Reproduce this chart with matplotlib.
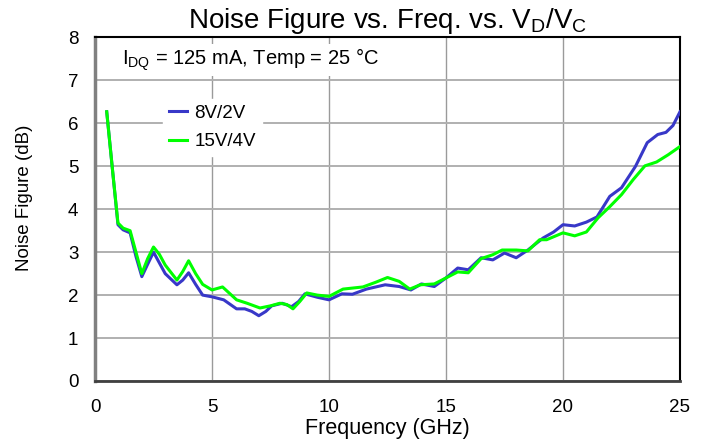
import matplotlib
matplotlib.use("Agg")
import matplotlib.pyplot as plt

plt.rcParams["font.family"] = ["Liberation Sans", "DejaVu Sans"]

# частота, ГГц и коэффициент шума, дБ
freq_8v = [0.5, 0.75, 0.98, 1.2, 1.5, 1.75, 2.0, 2.25, 2.5, 2.75, 3.0, 3.5, 3.75, 4.0,
           4.3, 4.6, 5.0, 5.5, 6.05, 6.4, 6.7, 7.0, 7.3, 7.55, 8.0, 8.4, 8.7, 8.97,
           9.5, 10.0, 10.55, 11.0, 11.6, 12.4, 13.0, 13.5, 13.95, 14.5, 15.0, 15.5,
           15.95, 16.5, 17.0, 17.5, 18.0, 18.5, 19.15, 19.6, 20.0, 20.5, 21.0, 21.45,
           22.0, 22.5, 23.1, 23.6, 24.05, 24.4, 24.7, 25.0]
nf_8v = [6.27, 4.9, 3.64, 3.52, 3.45, 2.9, 2.43, 2.72, 3.0, 2.75, 2.5, 2.24, 2.35, 2.52,
         2.25, 2.0, 1.96, 1.89, 1.68, 1.68, 1.62, 1.52, 1.62, 1.75, 1.81, 1.73, 1.85,
         2.03, 1.95, 1.89, 2.03, 2.02, 2.14, 2.24, 2.2, 2.12, 2.26, 2.2, 2.4, 2.63,
         2.59, 2.87, 2.82, 2.98, 2.87, 3.05, 3.33, 3.47, 3.64, 3.61, 3.7, 3.82,
         4.3, 4.5, 5.0, 5.55, 5.74, 5.79, 5.95, 6.27]

freq_15v = [0.5, 0.75, 0.98, 1.2, 1.5, 1.75, 2.0, 2.25, 2.5, 2.75, 3.0, 3.5, 3.75, 4.0,
            4.3, 4.6, 5.0, 5.45, 6.05, 6.5, 7.05, 7.5, 7.9, 8.2, 8.46, 8.75, 9.05,
            9.5, 10.0, 10.6, 11.45, 12.0, 12.5, 13.0, 13.45, 13.9, 14.5, 15.0, 15.5,
            15.95, 16.5, 17.0, 17.4, 18.0, 18.5, 19.0, 19.3, 20.0, 20.5, 21.0, 21.5,
            22.0, 22.5, 23.0, 23.5, 24.0, 24.5, 25.0]
nf_15v = [6.27, 4.9, 3.68, 3.56, 3.5, 3.0, 2.5, 2.85, 3.12, 2.95, 2.7, 2.35, 2.55, 2.8,
          2.5, 2.25, 2.12, 2.19, 1.89, 1.81, 1.7, 1.75, 1.81, 1.78, 1.68, 1.85, 2.05,
          2.0, 1.97, 2.14, 2.19, 2.3, 2.41, 2.32, 2.14, 2.24, 2.26, 2.4, 2.54,
          2.52, 2.85, 2.94, 3.05, 3.05, 3.03, 3.29, 3.29, 3.45, 3.38, 3.47, 3.8,
          4.06, 4.34, 4.69, 5.01, 5.1, 5.27, 5.46]

x_ticks = [0, 5, 10, 15, 20, 25]
y_ticks = [0, 1, 2, 3, 4, 5, 6, 7, 8]

fig = plt.figure(figsize=(7.07, 4.43), dpi=100)
ax = fig.add_axes([0.1344, 0.14, 0.8274, 0.7754])

ax.plot(freq_8v, nf_8v, color="#3838c8", lw=2.2, label="8V/2V", zorder=3,
        solid_joinstyle="round")
ax.plot(freq_15v, nf_15v, color="#00ff00", lw=2.2, label="15V/4V", zorder=3,
        solid_joinstyle="round")

ax.set_xlim(0, 25)
ax.set_ylim(0, 8)
ax.set_xticks(x_ticks)
ax.set_yticks(y_ticks)
ax.tick_params(length=0, labelsize=13.5)
ax.tick_params(axis="x", pad=13)
ax.tick_params(axis="y", pad=12)
ax.xaxis.grid(True, color="#9a9a9a", lw=1.0)
ax.yaxis.grid(True, color="#b0b0b0", lw=1.4)
ax.set_axisbelow(True)

ax.spines["left"].set_color("#808080")
ax.spines["left"].set_linewidth(2.5)
ax.spines["bottom"].set_color("#404040")
ax.spines["bottom"].set_linewidth(2.0)
for s in ("top", "right"):
    ax.spines[s].set_color("black")
    ax.spines[s].set_linewidth(1.5)

ax.set_xlabel("Frequency (GHz)", fontsize=15.5, labelpad=1.5)
ax.set_ylabel("Noise Figure (dB)", fontsize=13.5)
ax.yaxis.set_label_coords(-0.106, 0.534)
ax.set_title("Noise Figure vs. Freq. vs. V$_\\mathregular{D}$/V$_\\mathregular{C}$",
             fontsize=20, pad=7)

ax.text(1.17, 7.47, "I$_\\mathregular{DQ}$ = 125 mA, Temp = 25 °C", fontsize=14.5,
        va="center", ha="left", zorder=2,
        bbox=dict(facecolor="white", edgecolor="none", pad=2))

leg = ax.legend(loc="upper left", bbox_to_anchor=(0.117, 0.82), fontsize=13.5,
                frameon=True, handlelength=0.95, handletextpad=0.4,
                labelspacing=0.6, borderpad=0.3, borderaxespad=0)
leg.get_frame().set_facecolor("white")
leg.get_frame().set_edgecolor("white")
leg.get_frame().set_alpha(1.0)
leg.get_frame().set_boxstyle("square", pad=0)

fig.savefig("out.png", dpi=100)
